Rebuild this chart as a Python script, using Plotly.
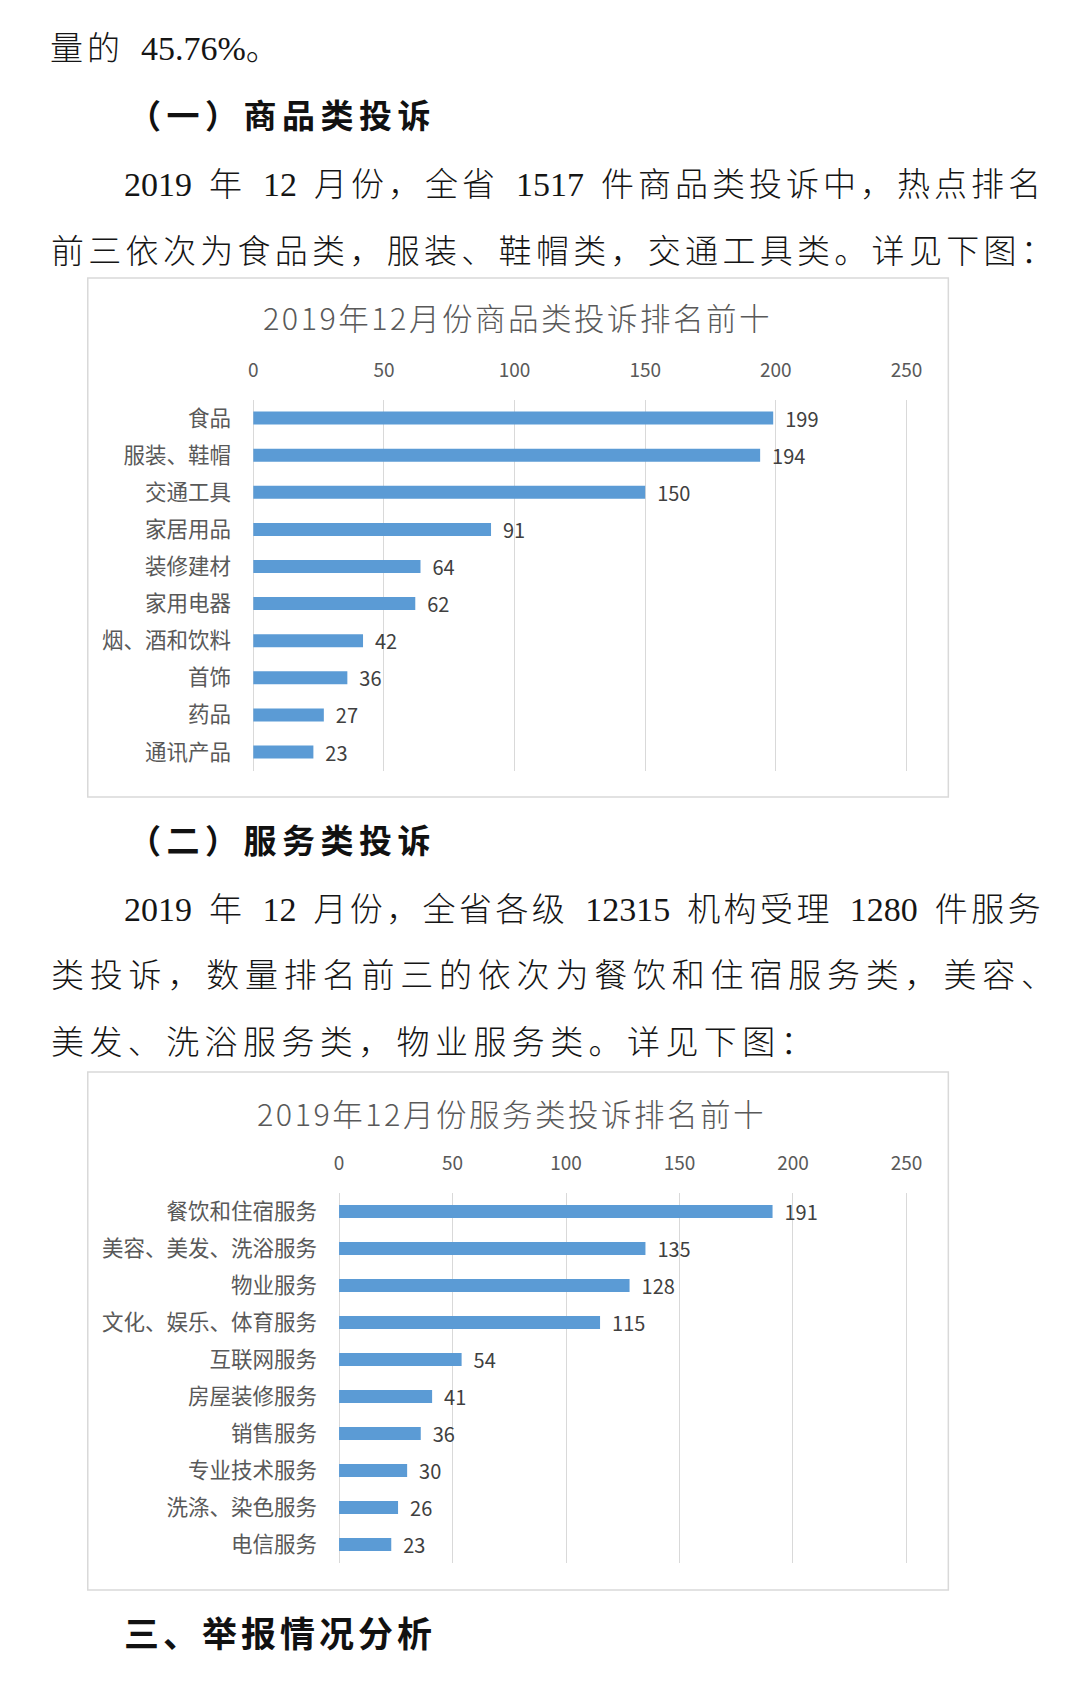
import re
import plotly.graph_objects as go

W, H = 1080, 1693
W_EFF = 1064  # effective horizontal extent observed for paper coordinates
X_OFF = 3     # small horizontal offset observed in the rendered page

# ---------------- data ----------------
goods_title = "2019年12月份商品类投诉排名前十"
goods_categories = ["食品", "服装、鞋帽", "交通工具", "家居用品", "装修建材",
                    "家用电器", "烟、酒和饮料", "首饰", "药品", "通讯产品"]
goods_values = [199, 194, 150, 91, 64, 62, 42, 36, 27, 23]

service_title = "2019年12月份服务类投诉排名前十"
service_categories = ["餐饮和住宿服务", "美容、美发、洗浴服务", "物业服务", "文化、娱乐、体育服务",
                      "互联网服务", "房屋装修服务", "销售服务", "专业技术服务", "洗涤、染色服务", "电信服务"]
service_values = [191, 135, 128, 115, 54, 41, 36, 30, 26, 23]

tick_values = [0, 50, 100, 150, 200, 250]

# text, left x, centre y, kind, letter spacing
body_lines = [
    ("量的 45.76%。", 47, 48, "body", 4.0),
    ("（一）商品类投诉", 125, 114, "head", 5.5),
    ("2019 年 12 月份，全省 1517 件商品类投诉中，热点排名", 121, 184, "body", 4.0),
    ("前三依次为食品类，服装、鞋帽类，交通工具类。详见下图：", 48, 252, "body", 4.3),
    ("（二）服务类投诉", 125, 839, "head", 5.5),
    ("2019 年 12 月份，全省各级 12315 机构受理 1280 件服务", 121, 909, "body", 3.4),
    ("类投诉，数量排名前三的依次为餐饮和住宿服务类，美容、", 48, 976, "body", 5.8),
    ("美发、洗浴服务类，物业服务类。详见下图：", 48, 1043, "body", 5.4),
    ("三、举报情况分析", 121, 1631, "head3", 4.0),
]

# ---------------- helpers ----------------
def px(x):
    return (x - X_OFF) / W_EFF

def py(y):
    return 1 - y / H

def spaced(s, ls, ascii_size=None):
    out = []
    for run in re.findall(r'[\x00-\x7f]+|[^\x00-\x7f]+', s):
        if ord(run[0]) < 128:
            r = run.replace(' ', '\u2002')
            if ascii_size:
                r = f'<span style="font-size:{ascii_size}px">{r}</span>'
            out.append(r)
        else:
            out.append(f'<span style="letter-spacing:{ls}px">{run}</span>')
    return ''.join(out)

CJK = "Noto Sans CJK SC"
BODY_FONT = "Liberation Serif, Noto Sans CJK SC"
GRID = "#D9D9D9"
BAR = "#5B9BD5"
LABEL = "#595959"

PAD = 0.5  # small range padding so the 0 and 250 gridlines are drawn


def xdomain(x0px, x250px):
    k = (x250px - x0px) / 250.0
    return [px(x0px - PAD * k), px(x250px + PAD * k)]


fig = go.Figure()

for cats, vals, xa, ya in [(goods_categories, goods_values, "x", "y"),
                           (service_categories, service_values, "x2", "y2")]:
    fig.add_trace(go.Bar(
        orientation="h", x=vals, y=cats,
        marker=dict(color=BAR, line=dict(width=0)), width=0.35,
        text=vals, texttemplate="\u00a0\u00a0%{x}", textposition="outside",
        constraintext="none",
        textfont=dict(family=CJK, size=20, color="#404040"), cliponaxis=False,
        xaxis=xa, yaxis=ya, showlegend=False, hoverinfo="skip"))

xcommon = dict(range=[-PAD, 250 + PAD], side="top", tickvals=tick_values, showgrid=True,
               gridcolor=GRID, gridwidth=1.3, zeroline=False, showline=False, ticks="",
               tickfont=dict(family=CJK, size=19, color=LABEL), ticklabelstandoff=18,
               fixedrange=True)
ycommon = dict(autorange="reversed", showgrid=False, zeroline=False, showline=False,
               ticks="", tickfont=dict(family=CJK, size=21.5, color=LABEL),
               ticklabelstandoff=20, fixedrange=True)

fig.update_layout(
    width=W, height=H, autosize=False, margin=dict(l=0, r=0, t=0, b=0, pad=0),
    paper_bgcolor="white", plot_bgcolor="rgba(0,0,0,0)",
    xaxis=dict(domain=xdomain(253, 908), anchor="y", **xcommon),
    yaxis=dict(domain=[py(770.6), py(399.5)], anchor="x", **ycommon),
    xaxis2=dict(domain=xdomain(339, 908), anchor="y2", **xcommon),
    yaxis2=dict(domain=[py(1563), py(1193)], anchor="x2", **ycommon),
)

shapes = []
for (x0, y0, x1, y1) in [(87, 278, 950, 797), (87, 1072, 950, 1590)]:
    shapes.append(dict(type="rect", xref="paper", yref="paper",
                       x0=px(x0), x1=px(x1), y0=py(y1), y1=py(y0),
                       line=dict(color=GRID, width=1.5), fillcolor="rgba(0,0,0,0)"))
fig.update_layout(shapes=shapes)

ann = []
for title, cx, cy in [(goods_title, 518, 317), (service_title, 512, 1113)]:
    ann.append(dict(text=f'<span style="letter-spacing:2.5px">{title}</span>',
                    x=px(cx), y=py(cy), xref="paper", yref="paper",
                    showarrow=False, xanchor="center", yanchor="middle",
                    font=dict(family=CJK, size=30.5, color=LABEL, weight=300)))

for text, x, y, kind, ls in body_lines:
    if kind == "body":
        t = spaced(text, ls, ascii_size=34)
        f = dict(family=BODY_FONT, size=33, color="#151515", weight=300)
    elif kind == "head":
        t = "<b>" + spaced(text, ls) + "</b>"
        f = dict(family=CJK, size=33, color="#111111")
    else:
        t = "<b>" + spaced(text, ls) + "</b>"
        f = dict(family=CJK, size=35, color="#111111")
    ann.append(dict(text=t, x=px(x), y=py(y), xref="paper", yref="paper",
                    showarrow=False, xanchor="left", yanchor="middle", font=f))

fig.update_layout(annotations=ann)

fig.write_html("out.html",
               config={"responsive": False, "displayModeBar": False},
               post_script="document.body.style.margin='0';document.body.style.overflow='hidden';")
